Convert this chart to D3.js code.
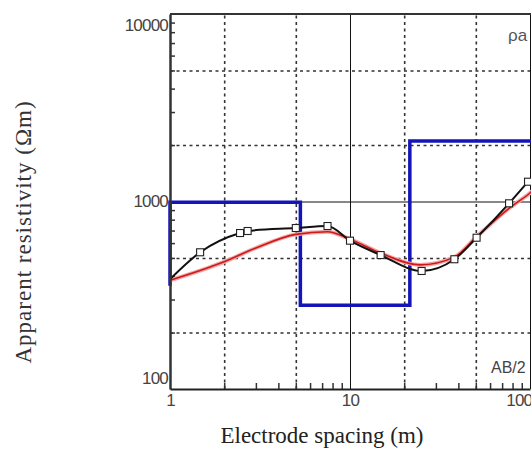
<!DOCTYPE html>
<html lang="en">
<head>
<meta charset="utf-8">
<title>VES sounding curve</title>
<script src="https://d3js.org/d3.v7.min.js"></script>
<style>
  body { margin: 0; background: #fff; }
  svg { display: block; }
</style>
</head>
<body>
<script>

// observed apparent resistivity (black line with open squares)
var obsSpacing = [1, 1.47, 2.45, 2.7, 5.0, 7.5, 10, 14.8, 25, 38, 50.5, 76.5, 97.5];
var obsRho     = [385, 536, 679, 696, 722, 740, 618, 518, 426, 492, 641, 978, 1275];

// calculated curve (red)
var calcSpacing = [1, 2, 3, 5, 7.5, 10, 14.8, 24.5, 38, 50.5, 76.5, 100, 130];
var calcRho     = [380, 477, 565, 668, 690, 630, 531, 459, 505, 649, 920, 1110, 1400];

// layered model (blue steps)
var modelDepth = [1, 1, 5.3, 5.3, 21.5, 21.5, 200];
var modelRho   = [355, 990, 990, 280, 280, 2100, 2100];

var xTicks = [1, 10, 100];
var yTicks = [100, 1000, 10000];
var xGridDash = [2, 5, 20, 50];
var yGridDash = [200, 500, 2000, 5000];
var xMinor = [2, 3, 4, 5, 6, 7, 8, 9, 20, 30, 40, 50, 60, 70, 80, 90];
var yMinor = [200, 300, 400, 500, 600, 700, 800, 900, 2000, 3000, 4000, 5000, 6000, 7000, 8000, 9000];

var margin = {top: 14, left: 170},
    width = 360,
    height = 375;

var svg = d3.select("body").append("svg")
    .attr("width", 531)
    .attr("height", 450);

var g = svg.append("g")
    .attr("transform", "translate(" + margin.left + "," + margin.top + ")");

var x = d3.scaleLog().domain([1, 100]).range([0, width]);
var y = d3.scaleLog().domain([100, 10000]).range([height, 0]);

// dashed grid
g.append("g")
    .attr("transform", "translate(0," + height + ")")
    .call(d3.axisBottom(x).tickValues(xGridDash).tickSize(-height).tickFormat(""))
    .call(function(a){ a.select(".domain").remove(); })
    .selectAll("line")
    .attr("stroke", "#333").attr("stroke-width", 1.6).attr("stroke-dasharray", "3,3.5");

g.append("g")
    .call(d3.axisLeft(y).tickValues(yGridDash).tickSize(-width - 10).tickFormat(""))
    .call(function(a){ a.select(".domain").remove(); })
    .selectAll("line")
    .attr("stroke", "#333").attr("stroke-width", 1.6).attr("stroke-dasharray", "3,3.5");

// solid decade lines
g.append("g")
    .attr("transform", "translate(0," + height + ")")
    .call(d3.axisBottom(x).tickValues([10, 100]).tickSize(-height).tickFormat(""))
    .call(function(a){ a.select(".domain").remove(); })
    .selectAll("line")
    .attr("stroke", "#111").attr("stroke-width", 1);

g.append("g")
    .call(d3.axisLeft(y).tickValues([1000]).tickSize(-width - 10).tickFormat(""))
    .call(function(a){ a.select(".domain").remove(); })
    .selectAll("line")
    .attr("stroke", "#111").attr("stroke-width", 1);

// top border
g.append("line")
    .attr("x1", 0).attr("x2", width + 10)
    .attr("y1", y(10000)).attr("y2", y(10000))
    .attr("stroke", "#333").attr("stroke-width", 2);

// minor ticks (inside)
g.append("g")
    .call(d3.axisRight(y).tickValues(yMinor).tickSize(5).tickFormat(""))
    .call(function(a){ a.select(".domain").remove(); })
    .selectAll("line").attr("stroke", "#333").attr("stroke-width", 1.5);

g.append("g")
    .attr("transform", "translate(0," + height + ")")
    .call(d3.axisTop(x).tickValues(xMinor).tickSize(6).tickFormat(""))
    .call(function(a){ a.select(".domain").remove(); })
    .selectAll("line").attr("stroke", "#333").attr("stroke-width", 1.5);

// model
var line = d3.line()
    .x(function(d){ return x(d[0]); })
    .y(function(d){ return y(d[1]); });

g.append("path")
    .datum(d3.zip(modelDepth, modelRho))
    .attr("d", line)
    .attr("fill", "none")
    .attr("stroke", "#1414b8")
    .attr("stroke-width", 3.5);

// calculated curve
var smooth = d3.line()
    .x(function(d){ return x(d[0]); })
    .y(function(d){ return y(d[1]); })
    .curve(d3.curveMonotoneX);

var calc = d3.zip(calcSpacing, calcRho);
g.append("path").datum(calc).attr("d", smooth)
    .attr("fill", "none").attr("stroke", "#f0a8a8").attr("stroke-width", 4);
g.append("path").datum(calc).attr("d", smooth)
    .attr("fill", "none").attr("stroke", "#d01818").attr("stroke-width", 1.6);

// observed
var obs = d3.zip(obsSpacing, obsRho);
g.append("path").datum(obs).attr("d", smooth)
    .attr("fill", "none").attr("stroke", "#111").attr("stroke-width", 2);

g.selectAll("rect.pt")
    .data(obs.filter(function(d, i){ return i > 0; }))
    .enter().append("rect")
    .attr("class", "pt")
    .attr("x", function(d){ return x(d[0]) - 3.5; })
    .attr("y", function(d){ return y(d[1]) - 3.5; })
    .attr("width", 7).attr("height", 7)
    .attr("fill", "#fff").attr("stroke", "#222").attr("stroke-width", 1.1);

// left axis
var yAxis = g.append("g")
    .call(d3.axisLeft(y).tickValues(yTicks).tickSize(0).tickPadding(2).tickFormat(d3.format("d")));
yAxis.select(".domain").attr("stroke", "#333").attr("stroke-width", 2.5);
yAxis.selectAll("text")
    .attr("font-family", "Liberation Sans, Arial, sans-serif")
    .attr("font-size", "17px")
    .attr("letter-spacing", "-0.8px")
    .attr("fill", "#444")
    .attr("dy", function(d){ return d === 10000 ? "0.95em" : d === 100 ? "-0.35em" : "0.32em"; });

// bottom axis
var xAxis = g.append("g")
    .attr("transform", "translate(0," + height + ")")
    .call(d3.axisBottom(x).tickValues(xTicks).tickSize(0).tickPadding(5).tickFormat(d3.format("d")));
xAxis.select(".domain").attr("stroke", "#222").attr("stroke-width", 2);
xAxis.selectAll("text")
    .attr("font-family", "Liberation Sans, Arial, sans-serif")
    .attr("font-size", "17px")
    .attr("letter-spacing", "-0.8px")
    .attr("fill", "#444")
    .attr("text-anchor", function(d){ return d === 100 ? "end" : "middle"; })
    .attr("dx", function(d){ return d === 100 ? "0.1em" : 0; });

// inner labels
g.append("text")
    .attr("x", 338).attr("y", 27)
    .attr("font-family", "Liberation Sans, Arial, sans-serif")
    .attr("font-size", "17px")
    .attr("fill", "#555")
    .text("ρa");

g.append("text")
    .attr("x", 321).attr("y", 359)
    .attr("font-family", "Liberation Sans, Arial, sans-serif")
    .attr("font-size", "16px")
    .attr("fill", "#444")
    .text("AB/2");

// axis titles
svg.append("text")
    .attr("x", 322).attr("y", 443)
    .attr("text-anchor", "middle")
    .attr("font-family", "Liberation Serif, Times New Roman, serif")
    .attr("font-size", "23px")
    .attr("fill", "#222")
    .text("Electrode spacing (m)");

svg.append("text")
    .attr("transform", "translate(31,232) rotate(-90)")
    .attr("text-anchor", "middle")
    .attr("font-family", "Liberation Serif, Times New Roman, serif")
    .attr("font-size", "23px")
    .attr("letter-spacing", "1px")
    .attr("fill", "#333")
    .text("Apparent resistivity (Ωm)");

</script>
</body>
</html>
